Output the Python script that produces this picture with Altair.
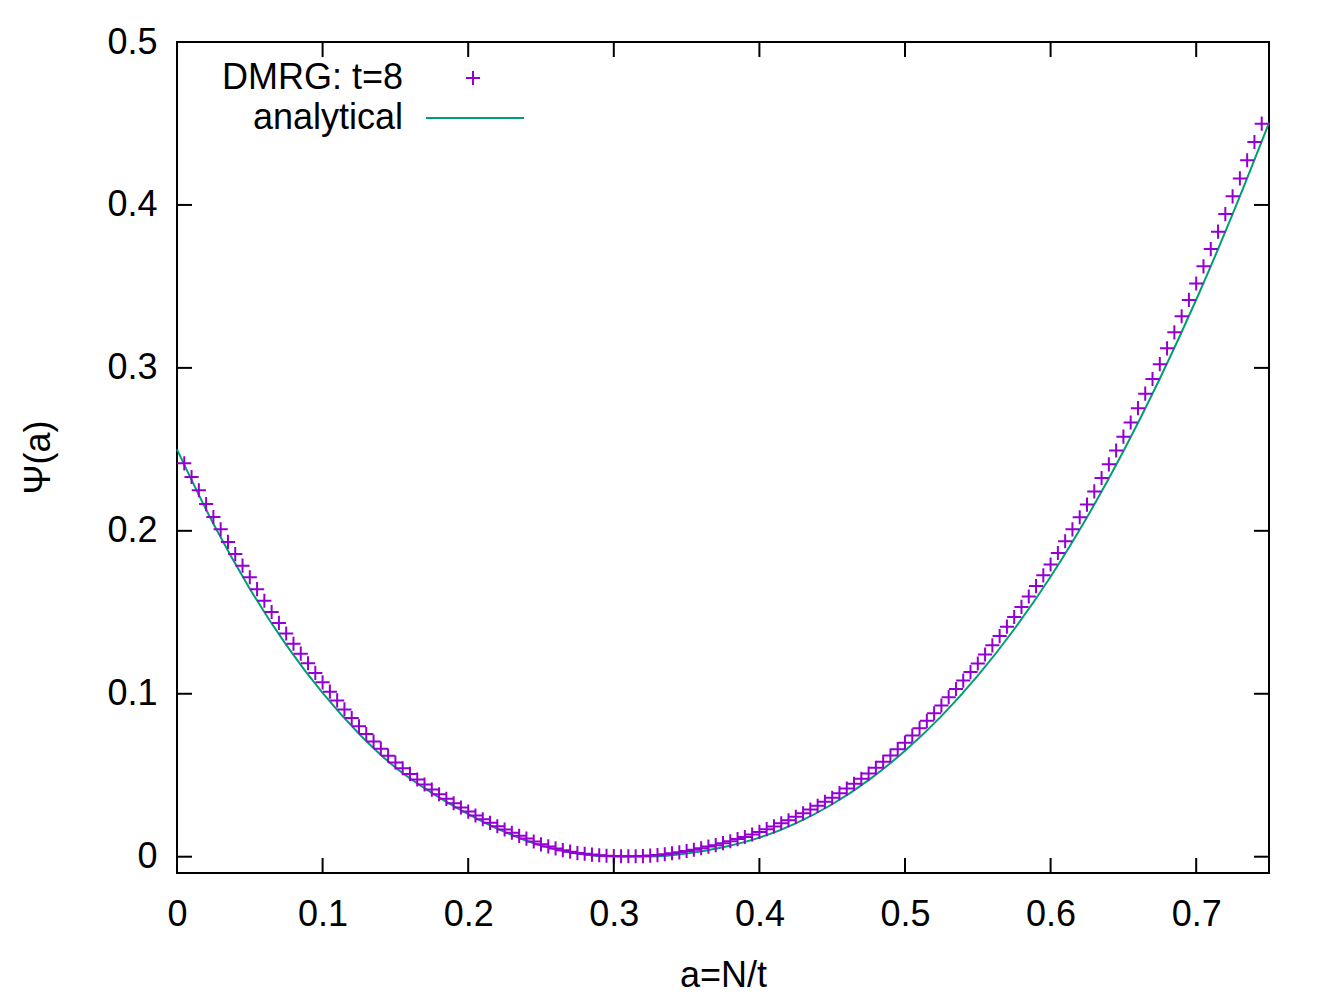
import altair as alt
import pandas as pd

# Analytical rate function Psi(a), sampled along a = N/t
analytic_a = [0.000, 0.025, 0.050, 0.075, 0.100, 0.125, 0.150, 0.175, 0.200, 0.225,
              0.250, 0.275, 0.300, 0.325, 0.350, 0.375, 0.400, 0.425, 0.450, 0.475,
              0.500, 0.525, 0.550, 0.575, 0.600, 0.625, 0.650, 0.675, 0.700, 0.725, 0.750]
analytic_psi = [0.2500, 0.2043, 0.1645, 0.1300, 0.1005, 0.0755, 0.0548, 0.0392, 0.0262, 0.0152,
                0.0068, 0.0018, 0.0001, 0.0002, 0.0020, 0.0058, 0.0117, 0.0205, 0.0322, 0.0470,
                0.0650, 0.0863, 0.1111, 0.1396, 0.1718, 0.2083, 0.2488, 0.2933, 0.3418, 0.3943, 0.4503]

# DMRG results for t = 8, a = 0.005 ... 0.745
dmrg_a = [round(0.005 * k, 3) for k in range(1, 150)]
dmrg_psi = [
    0.2414, 0.2330, 0.2249, 0.2164, 0.2085, 0.2009, 0.1932, 0.1857, 0.1786, 0.1715,
    0.1642, 0.1571, 0.1502, 0.1435, 0.1370, 0.1307, 0.1246, 0.1187, 0.1128, 0.1070,
    0.1013, 0.0959, 0.0904, 0.0851, 0.0800, 0.0753, 0.0707, 0.0663, 0.0620, 0.0578,
    0.0543, 0.0508, 0.0474, 0.0443, 0.0412, 0.0383, 0.0355, 0.0328, 0.0302, 0.0277,
    0.0253, 0.0230, 0.0208, 0.0187, 0.0167, 0.0147, 0.0128, 0.0111, 0.0093, 0.0076,
    0.0063, 0.0051, 0.0040, 0.0031, 0.0022, 0.0018, 0.0013, 0.0009, 0.0006, 0.0004,
    0.0003, 0.0003, 0.0003, 0.0004, 0.0007, 0.0010, 0.0015, 0.0021, 0.0027, 0.0035,
    0.0043, 0.0052, 0.0062, 0.0071, 0.0083, 0.0095, 0.0108, 0.0121, 0.0136, 0.0152,
    0.0169, 0.0186, 0.0205, 0.0224, 0.0245, 0.0266, 0.0289, 0.0312, 0.0337, 0.0362,
    0.0390, 0.0418, 0.0448, 0.0478, 0.0510, 0.0546, 0.0583, 0.0621, 0.0660, 0.0700,
    0.0744, 0.0788, 0.0834, 0.0880, 0.0928, 0.0979, 0.1029, 0.1081, 0.1133, 0.1186,
    0.1241, 0.1297, 0.1354, 0.1412, 0.1471, 0.1533, 0.1597, 0.1661, 0.1727, 0.1793,
    0.1864, 0.1936, 0.2009, 0.2083, 0.2161, 0.2242, 0.2324, 0.2408, 0.2493, 0.2578,
    0.2665, 0.2753, 0.2842, 0.2932, 0.3023, 0.3120, 0.3218, 0.3317, 0.3417, 0.3518,
    0.3623, 0.3729, 0.3836, 0.3944, 0.4053, 0.4163, 0.4274, 0.4386, 0.4499,
]

x_ticks = [0.0, 0.1, 0.2, 0.3, 0.4, 0.5, 0.6, 0.7]
y_ticks = [0.0, 0.1, 0.2, 0.3, 0.4, 0.5]

W, H = 1092, 831
TICK = 15
FONT = "Liberation Sans"
PURPLE = "#9400D3"
GREEN = "#009E73"
PLUS = "M-1,0L1,0M0,-1L0,1"
PLUS_SIZE = 200

df_an = pd.DataFrame({"a": analytic_a, "psi": analytic_psi})
df_dm = pd.DataFrame({"a": dmrg_a, "psi": dmrg_psi})
df_xt = pd.DataFrame({"a": x_ticks})
df_yt = pd.DataFrame({"psi": y_ticks})

xscale = alt.Scale(domain=[0, 0.75], nice=False, zero=False)
yscale = alt.Scale(domain=[-0.01, 0.5], nice=False, zero=False)

x_axis = alt.Axis(values=x_ticks, format=".1~f", title="a=N/t", ticks=False, tickSize=0,
                  domain=False, grid=False, labelPadding=24, labelFlush=False,
                  titleX=546, titleY=102, titleAlign="center", titleBaseline="middle")
y_axis = alt.Axis(values=y_ticks, format=".1~f", title="Ψ(a)", ticks=False, tickSize=0,
                  domain=False, grid=False, labelPadding=20, labelFlush=False,
                  titleX=-139, titleY=415, titleAlign="center", titleBaseline="middle",
                  titleAngle=-90)

X = alt.X("a:Q", scale=xscale, axis=x_axis)
Y = alt.Y("psi:Q", scale=yscale, axis=y_axis)

line = alt.Chart(df_an).mark_line(color=GREEN, strokeWidth=2, interpolate="monotone").encode(x=X, y=Y)

points = alt.Chart(df_dm).mark_point(shape=PLUS, size=PLUS_SIZE, filled=False, stroke=PURPLE,
                                     strokeWidth=2, opacity=1).encode(x=X, y=Y)

# Inward tick marks on all four sides of the frame
tick_style = dict(color="black", strokeWidth=2)
xt_bottom = alt.Chart(df_xt).mark_rule(**tick_style).encode(
    x=X, y=alt.value(H), y2=alt.value(H - TICK))
xt_top = alt.Chart(df_xt).mark_rule(**tick_style).encode(
    x=X, y=alt.value(0), y2=alt.value(TICK))
yt_left = alt.Chart(df_yt).mark_rule(**tick_style).encode(
    y=Y, x=alt.value(0), x2=alt.value(TICK))
yt_right = alt.Chart(df_yt).mark_rule(**tick_style).encode(
    y=Y, x=alt.value(W - TICK), x2=alt.value(W))

# Key in the upper-left corner: label text followed by its sample
key_df = pd.DataFrame({"label": ["DMRG: t=8", "analytical"]})
key_text1 = alt.Chart(key_df.iloc[[0]]).mark_text(
    align="right", baseline="middle", font=FONT, fontSize=36, color="black").encode(
    text="label:N", x=alt.value(226), y=alt.value(36))
key_text2 = alt.Chart(key_df.iloc[[1]]).mark_text(
    align="right", baseline="middle", font=FONT, fontSize=36, color="black").encode(
    text="label:N", x=alt.value(226), y=alt.value(76))
key_plus = alt.Chart(key_df.iloc[[0]]).mark_point(
    shape=PLUS, size=PLUS_SIZE, filled=False, stroke=PURPLE, strokeWidth=2, opacity=1).encode(
    x=alt.value(296), y=alt.value(36))
key_line = alt.Chart(key_df.iloc[[1]]).mark_rule(color=GREEN, strokeWidth=2).encode(
    x=alt.value(249), x2=alt.value(347), y=alt.value(76))

chart = alt.layer(
    line, points, xt_bottom, xt_top, yt_left, yt_right,
    key_text1, key_text2, key_plus, key_line,
).properties(
    width=W, height=H,
    autosize=alt.AutoSizeParams(type="none"),
    padding={"left": 177, "top": 42, "right": 65, "bottom": 127},
    background="white",
).configure_view(
    stroke="black", strokeWidth=2
).configure_axis(
    labelFont=FONT, labelFontSize=36, labelColor="black",
    titleFont=FONT, titleFontSize=36, titleColor="black", titleFontWeight="normal",
)

chart.save("out.html", embed_options={"renderer": "svg", "actions": False})
